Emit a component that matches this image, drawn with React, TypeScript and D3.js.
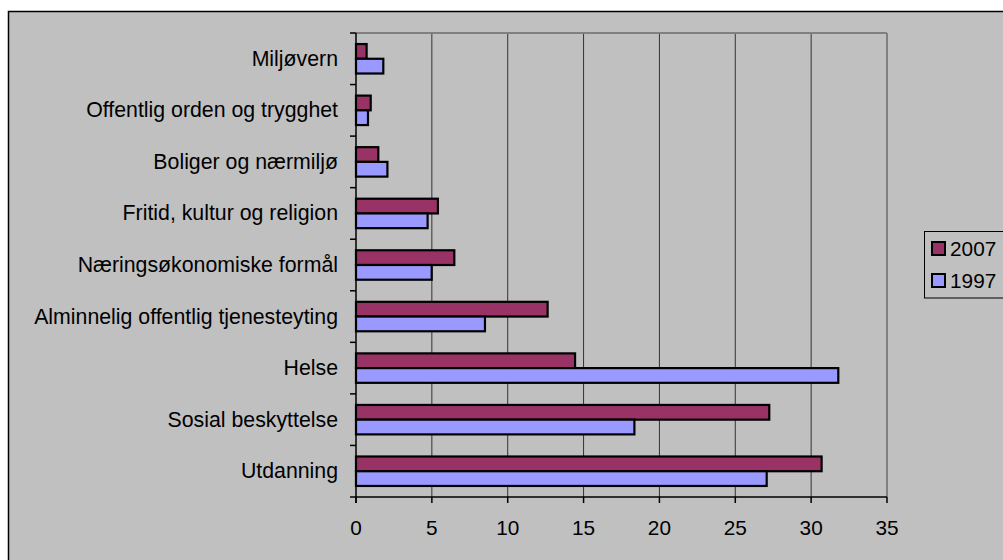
import React from 'react';
import * as d3 from 'd3';

// Data
const categories = [
  'Miljøvern',
  'Offentlig orden og trygghet',
  'Boliger og nærmiljø',
  'Fritid, kultur og religion',
  'Næringsøkonomiske formål',
  'Alminnelig offentlig tjenesteyting',
  'Helse',
  'Sosial beskyttelse',
  'Utdanning',
];
const values2007 = [0.7, 0.97, 1.47, 5.4, 6.48, 12.63, 14.44, 27.24, 30.69];
const values1997 = [1.8, 0.79, 2.07, 4.72, 4.99, 8.5, 31.79, 18.35, 27.07];
const seriesNames = ['2007', '1997'];
const seriesColors = ['#993366', '#9999FF'];
const xTicks = [0, 5, 10, 15, 20, 25, 30, 35];

const W = 1003;
const H = 560;
const FONT = '"Liberation Sans", Arial, sans-serif';
const FS = 20.8;
const FS_CAT = 21.3;

export default function App() {
  const plot = { left: 356, right: 887, top: 33, bottom: 497 };

  const x = d3.scaleLinear().domain([0, 35]).range([plot.left, plot.right]);
  const y = d3.scaleBand<string>().domain(categories).range([plot.top, plot.bottom]);
  // Excel style gap width 150%: two bars + 1.5 bar of gap per category
  const barH = y.bandwidth() / 3.5;
  const pad = barH * 0.75;

  const series = [values2007, values1997];

  return (
    <svg
      width={W}
      height={H}
      style={{ position: 'absolute', left: 0, top: 0 }}
      fontFamily={FONT}
    >
      <rect x={0} y={0} width={W} height={H} fill="#fff" />
      {/* chart area */}
      <rect x={8.5} y={11.5} width={W} height={H} fill="#C0C0C0" stroke="#000" strokeWidth={1.5} />

      {/* gridlines */}
      {xTicks.slice(1, -1).map(t => (
        <line key={t} x1={x(t)} x2={x(t)} y1={plot.top} y2={plot.bottom} stroke="#333" strokeWidth={1} />
      ))}
      {/* plot frame top / right */}
      <line x1={plot.left} x2={plot.right} y1={plot.top} y2={plot.top} stroke="#808080" strokeWidth={2} />
      <line x1={plot.right} x2={plot.right} y1={plot.top} y2={plot.bottom} stroke="#808080" strokeWidth={2} />

      {/* bars */}
      {categories.map((c, i) => (
        <g key={c}>
          {series.map((vals, s) => (
            <rect
              key={s}
              x={x(0)}
              y={(y(c) ?? 0) + pad + s * barH}
              width={x(vals[i]) - x(0)}
              height={barH}
              fill={seriesColors[s]}
              stroke="#000"
              strokeWidth={2.2}
            />
          ))}
        </g>
      ))}

      {/* y axis */}
      <line x1={plot.left} x2={plot.left} y1={plot.top} y2={plot.bottom + 6} stroke="#000" strokeWidth={1.5} />
      {categories.map((c, i) => (
        <line key={'t' + i} x1={plot.left - 6} x2={plot.left} y1={y(c) ?? 0} y2={y(c) ?? 0} stroke="#000" strokeWidth={1.5} />
      ))}
      {categories.map(c => (
        <text
          key={'l' + c}
          x={338}
          y={(y(c) ?? 0) + y.bandwidth() / 2}
          textAnchor="end"
          dominantBaseline="central"
          fontSize={FS_CAT}
          fill="#000"
        >
          {c}
        </text>
      ))}

      {/* x axis */}
      <line x1={plot.left - 6} x2={plot.right} y1={plot.bottom} y2={plot.bottom} stroke="#000" strokeWidth={1.5} />
      {xTicks.map(t => (
        <g key={'x' + t}>
          <line x1={x(t)} x2={x(t)} y1={plot.bottom} y2={plot.bottom + 6} stroke="#000" strokeWidth={1.5} />
          <text x={x(t)} y={527} textAnchor="middle" dominantBaseline="central" fontSize={FS} fill="#000">
            {t}
          </text>
        </g>
      ))}

      {/* legend */}
      <rect x={924.5} y={231.5} width={100} height={66.5} fill="#C0C0C0" stroke="#000" strokeWidth={1} />
      {seriesNames.map((n, s) => {
        const cy = 248.5 + s * 32;
        return (
          <g key={n}>
            <rect x={932} y={cy - 6.5} width={13} height={13} fill={seriesColors[s]} stroke="#000" strokeWidth={2} />
            <text x={950} y={cy} dominantBaseline="central" fontSize={FS} fill="#000">
              {n}
            </text>
          </g>
        );
      })}
    </svg>
  );
}
